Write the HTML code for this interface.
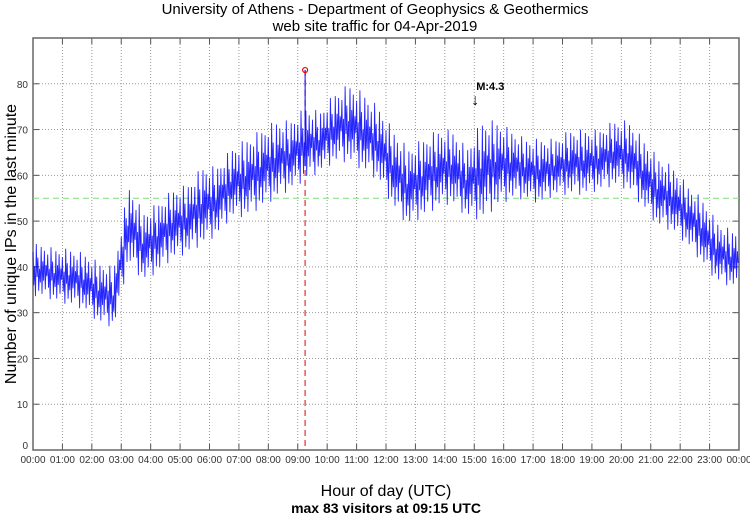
<!DOCTYPE html>
<html><head><meta charset="utf-8"><style>
body{margin:0;background:#fff;}
svg{display:block;font-family:"Liberation Sans",sans-serif;}
</style></head><body>
<svg id="chart" width="750" height="515">
<text x="375" y="14" text-anchor="middle" font-size="15">University of Athens - Department of Geophysics &amp; Geothermics</text>
<text x="375" y="31" text-anchor="middle" font-size="15">web site traffic for 04-Apr-2019</text>
<text transform="translate(16,244) rotate(-90)" text-anchor="middle" font-size="16">Number of unique IPs in the last minute</text>
<text x="386" y="496" text-anchor="middle" font-size="16">Hour of day (UTC)</text>
<text x="386" y="513" text-anchor="middle" font-size="14" font-weight="bold">max 83 visitors at 09:15 UTC</text>
<g id="grid"></g><g id="series"></g><g id="overlay"></g>
</svg>
<script>
const hourTicks=["00:00","01:00","02:00","03:00","04:00","05:00","06:00","07:00","08:00","09:00","10:00","11:00","12:00","13:00","14:00","15:00","16:00","17:00","18:00","19:00","20:00","21:00","22:00","23:00","00:00"];
const yTicks=[0,10,20,30,40,50,60,70,80];
const binLow=[33,32,31,30,27,26,40,36,38,41,42,44,46,50,50,52,54,56,58,60,62,62,60,58,52,48,50,52,53,50,49,52,54,54,53,55,55,55,56,57,56,52,48,47,44,40,36,35];
const binHigh=[45,44,44,43,41,40,58,52,54,57,58,62,62,66,68,70,72,72,75,74,78,80,78,75,70,66,68,70,70,66,72,72,70,68,68,68,70,70,70,72,72,68,64,62,58,55,50,48];
const meanLine=55;
const maxValue=83, maxMinute=555;
const markerMinute=902, markerLabel="M:4.3";

const L=33,R=739,T=38,B=450;
const xs=m=>L+(R-L)*m/1440;
const ys=v=>B-(B-T)*v/90;
const NS="http://www.w3.org/2000/svg";
function mk(tag,attrs,parent){const e=document.createElementNS(NS,tag);for(const k in attrs)e.setAttribute(k,attrs[k]);parent.appendChild(e);return e;}
const grid=document.getElementById('grid'),ser=document.getElementById('series'),ov=document.getElementById('overlay');
hourTicks.forEach((t,i)=>{const x=xs(i*60);
 if(i>0&&i<24){const g=mk('line',{x1:x,x2:x,y1:T,y2:B,stroke:'#999','stroke-dasharray':'1,2'},grid);
 }
 const tk=mk('line',{x1:x,x2:x,y1:B,y2:B-6,stroke:'#555'},grid);
 const tk2=mk('line',{x1:x,x2:x,y1:T,y2:T+6,stroke:'#555'},grid);
 const tx=mk('text',{x:x,y:B+13,'text-anchor':'middle','font-size':'10',fill:'#333'},grid);tx.textContent=t;
 });
yTicks.forEach(v=>{const y=ys(v);
 if(v>0){const g=mk('line',{x1:L,x2:R,y1:y,y2:y,stroke:'#999','stroke-dasharray':'1,2'},grid);}
 const tk=mk('line',{x1:L,x2:L+6,y1:y,y2:y,stroke:'#555'},grid);
 const tk2=mk('line',{x1:R-6,x2:R,y1:y,y2:y,stroke:'#555'},grid);
 const tx=mk('text',{x:L-5,y:y+(v===0?-1:4),'text-anchor':'end','font-size':'10',fill:'#333'},grid);tx.textContent=v;
 });
const frame=mk('rect',{x:L,y:T,width:R-L,height:B-T,fill:'none',stroke:'#666','stroke-width':'1.5'},grid);

const mean=mk('line',{x1:L,x2:R,y1:ys(meanLine),y2:ys(meanLine),stroke:'#7fdd7f','stroke-dasharray':'6,4'},ser);

// zigzag texture fractions within each band (styling only)
const shape=[0.85,0.25,0.6,0.05,1,0.4,0.75,0.15,0.55,0.3,0.95,0.1,0.7,0.35,0.9,0.2,0.65,0.45];
function bandAt(arr,m){const c=(m-15)/30;let i=Math.floor(c);const f=c-i;
 const a=arr[Math.max(0,Math.min(arr.length-1,i))],b=arr[Math.max(0,Math.min(arr.length-1,i+1))];return a+(b-a)*f;}
let pts=[];const steps=18;let k=0;
for(let i=0;i<binLow.length;i++){for(let s=0;s<steps;s++){const m=i*30+s*30/steps;
 const lo=bandAt(binLow,m),hi=bandAt(binHigh,m);const v=lo+(hi-lo)*shape[k%shape.length];k++;
 pts.push(xs(m).toFixed(1)+','+ys(v).toFixed(1));}}
const line=mk('polyline',{points:pts.join(' '),fill:'none',stroke:'#0000ff','stroke-width':'0.9','stroke-opacity':'0.85'},ser);

const xm=xs(maxMinute);
const vl=mk('line',{x1:xm,x2:xm,y1:ys(maxValue),y2:B,stroke:'#e03030','stroke-dasharray':'6,4','stroke-width':'1.2'},ov);

const sp=mk('line',{x1:xm,x2:xm,y1:ys(maxValue),y2:ys(62),stroke:'#0000ff'},ov);

const c=mk('circle',{cx:xm,cy:ys(maxValue),r:2.5,fill:'none',stroke:'#e00','stroke-width':'1.2'},ov);

const xe=xs(markerMinute);
const ml=mk('text',{x:xe+1,y:90,'font-size':'11','font-weight':'bold'},ov);ml.textContent=markerLabel;

const ma=mk('text',{x:xe-4,y:105,'font-size':'16'},ov);ma.textContent='↓';

</script>
</body></html>
